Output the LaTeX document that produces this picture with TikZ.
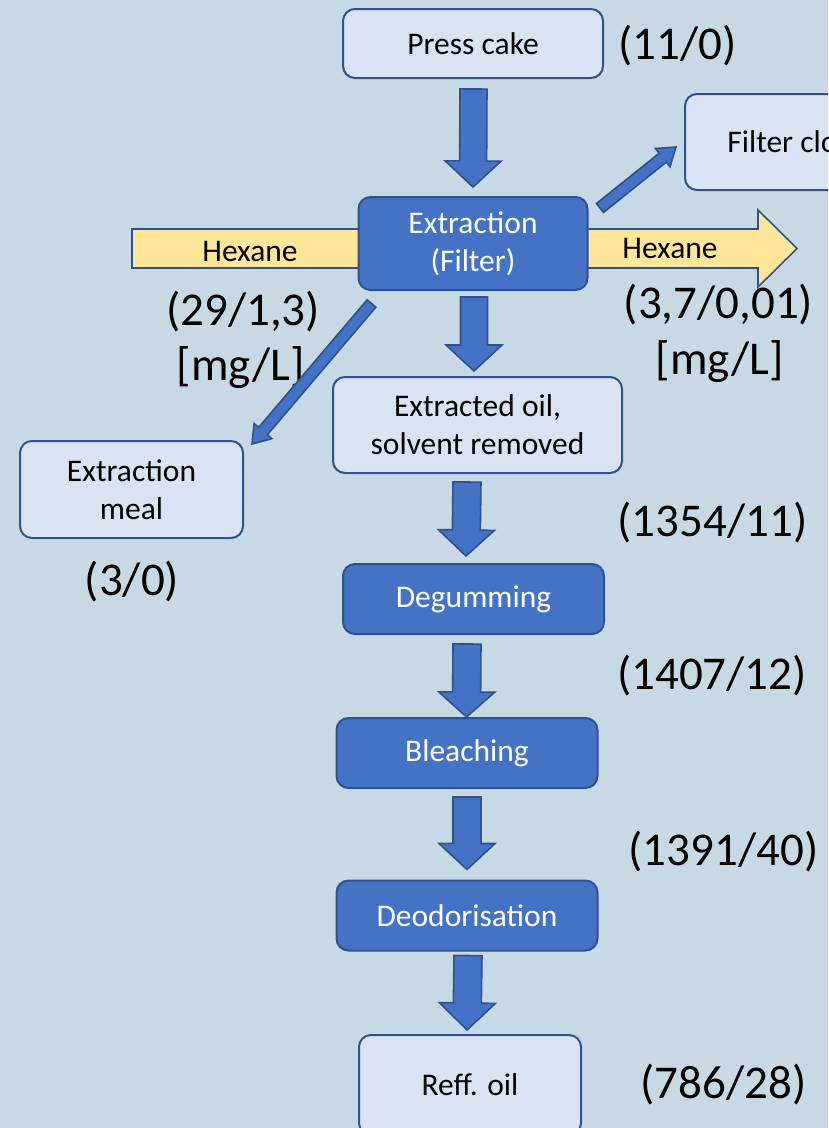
\documentclass[tikz,border=0pt]{standalone}
\usepackage{fontspec}
\setmainfont{Carlito}
\usetikzlibrary{calc}
\definecolor{bgc}{HTML}{C8D9E6}
\definecolor{lightfill}{HTML}{DAE3F3}
\definecolor{darkfill}{HTML}{4472C4}
\definecolor{bord}{HTML}{2F528F}
\definecolor{hexfill}{HTML}{FFE699}
\newcommand\barr[6][darkfill]{%
  \coordinate (tmpH) at ($(#3)!#6!(#2)$);
  \draw[arrowshape, fill=#1] ($(#2)!#4!90:(#3)$) -- ($(tmpH)!#4!90:(#3)$) -- ($(tmpH)!#5!90:(#3)$) -- (#3)
    -- ($(tmpH)!#5!-90:(#3)$) -- ($(tmpH)!#4!-90:(#3)$) -- ($(#2)!#4!-90:(#3)$) -- cycle;
}
\tikzset{
  arrowshape/.style={draw=bord, line width=1.6pt, line join=miter},
  boxtext/.style={font=\fontsize{31.5}{38}\selectfont, align=center},
  lightbox/.style={boxtext, draw=bord, fill=lightfill, line width=2pt, rounded corners=12pt, text=black, inner sep=0pt},
  darkbox/.style={boxtext, draw=bord, fill=darkfill, line width=2pt, rounded corners=12pt, text=white, inner sep=0pt},
  biglabel/.style={font=\fontsize{47}{56}\selectfont, inner sep=0pt},
}
\begin{document}
\begin{tikzpicture}[x=1pt,y=1pt]
\useasboundingbox (0,0) rectangle (828,-1128);
\clip (0,0) rectangle (828,-1128);
\fill[bgc] (0,0) rectangle (828,-1128);

% Hexane streams (behind extraction box)
\node[draw=bord, fill=hexfill, line width=1.6pt, minimum width=238pt, minimum height=39pt, inner sep=0pt, anchor=west] (hexin) at (131,-248.5) {};
\node[boxtext, inner sep=0pt] (hexinlbl) at (250,-252) {Hexane};
\coordinate (hexouts) at (570,-248.5);
\coordinate (hexoutt) at (797,-248.5);
\barr[hexfill]{hexouts}{hexoutt}{19.5pt}{38.5pt}{39pt}

% Boxes
\node[lightbox, minimum width=260pt, minimum height=69pt] (press) at (473,-43.5) {Press cake};
\node[darkbox, minimum width=229pt, minimum height=93pt] (extr) at (473,-243.5) {Extraction\\(Filter)};
\node[lightbox, minimum width=222pt, minimum height=96pt] (filter) at (796,-142) {Filter cloth};
\node[lightbox, minimum width=289pt, minimum height=96pt] (oil) at (477.5,-425) {Extracted oil,\\solvent removed};
\node[lightbox, minimum width=223pt, minimum height=97pt] (meal) at (131.5,-489.5) {Extraction\\meal};
\node[darkbox, minimum width=261pt, minimum height=70pt] (degum) at (473.5,-599) {Degumming};
\node[darkbox, minimum width=261pt, minimum height=70pt] (bleach) at (467,-753) {Bleaching};
\node[darkbox, minimum width=261pt, minimum height=70pt] (deod) at (467,-915.5) {Deodorisation};
\node[lightbox, minimum width=222pt, minimum height=100pt] (reff) at (470,-1085) {Reff. oil};

\node[boxtext, inner sep=0pt] (hexoutlbl) at (670,-249) {Hexane};

% Labels
\node[biglabel] (l1) at (677.5,-46) {(11/0)};
\node[biglabel] (l2) at (243,-312) {(29/1,3)};
\node[biglabel] (l3) at (241,-368) {[mg/L]};
\node[biglabel] (l4) at (718.5,-305) {(3,7/0,01)};
\node[biglabel] (l5) at (720,-362) {[mg/L]};
\node[biglabel] (l6) at (132,-582) {(3/0)};
\node[biglabel] (l7) at (712.5,-523) {(1354/11)};
\node[biglabel] (l8) at (712,-676) {(1407/12)};
\node[biglabel] (l9) at (723.5,-852) {(1391/40)};
\node[biglabel] (l10) at (723.5,-1085) {(786/28)};

% Vertical block arrows
\coordinate (a1s) at ($(press.south)+(0.5,-10)$);
\coordinate (a1t) at ($(extr.north)+(0,9)$);
\barr{a1s}{a1t}{13.5pt}{28pt}{26pt}
\coordinate (a2s) at ($(extr.south)+(1,-6)$);
\coordinate (a2t) at ($(oil.north)+(-3.5,5)$);
\barr{a2s}{a2t}{13.5pt}{28pt}{26pt}
\coordinate (a3s) at ($(oil.south)+(-10.5,-8)$);
\coordinate (a3t) at ($(degum.north)+(-7.5,7)$);
\barr{a3s}{a3t}{14pt}{28pt}{26pt}
\coordinate (a4s) at ($(degum.south)+(-6.5,-9)$);
\coordinate (a4t) at ($(bleach.north)+(-0.5,0)$);
\barr{a4s}{a4t}{14pt}{28pt}{25pt}
\coordinate (a5s) at ($(bleach.south)+(0,-8)$);
\coordinate (a5t) at ($(deod.north)+(0,10)$);
\barr{a5s}{a5t}{14pt}{28pt}{26pt}
\coordinate (a6s) at ($(deod.south)+(1,-4)$);
\coordinate (a6t) at ($(reff.north)+(-3,4)$);
\barr{a6s}{a6t}{14pt}{28pt}{27pt}

% Diagonal arrows
\coordinate (a7s) at (600,-208);
\coordinate (a7t) at ($(filter.west)+(-8,-5)$);
\barr{a7s}{a7t}{5.7pt}{11.7pt}{17pt}
\coordinate (a8s) at (371.5,-303.5);
\coordinate (a8t) at ($(meal.north east)+(8,-4)$);
\barr{a8s}{a8t}{5.7pt}{11.7pt}{17pt}
\end{tikzpicture}
\end{document}
